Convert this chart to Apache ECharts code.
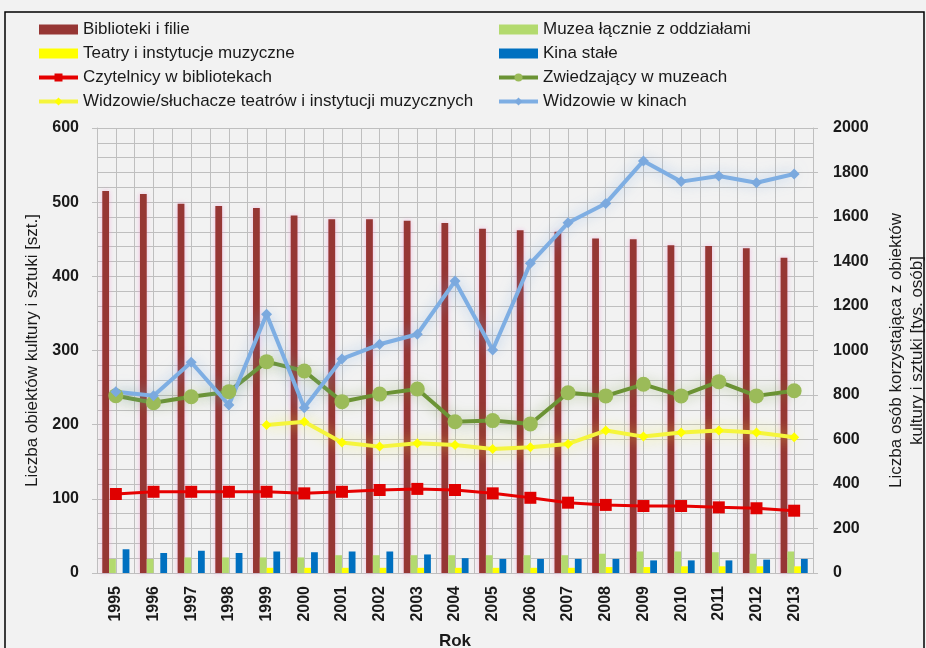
<!DOCTYPE html>
<html>
<head>
<meta charset="utf-8">
<script src="https://cdn.jsdelivr.net/npm/echarts@6/dist/echarts.min.js"></script>
<style>
html, body { margin: 0; padding: 0; background: #f2f2f2; overflow: hidden; }
#main { width: 926px; height: 648px; }
</style>
</head>
<body>
<div id="main"></div>
<script>
var years = ['1995', '1996', '1997', '1998', '1999', '2000', '2001', '2002', '2003', '2004',
    '2005', '2006', '2007', '2008', '2009', '2010', '2011', '2012', '2013'];

// lewa os [szt.]
var biblioteki = [515, 511, 498, 495, 492, 482, 477, 477, 475, 472, 464, 462, 460, 451, 450, 442, 441, 438, 425];
var muzea = [19, 19, 21, 21, 21, 21, 24, 24, 24, 24, 24, 24, 24, 26, 29, 29, 28, 26, 29];
var teatry = [null, null, null, null, 7, 7, 7, 7, 7, 7, 7, 7, 7, 8, 8, 9, 9, 9, 9];
var kina = [32, 27, 30, 27, 29, 28, 29, 29, 25, 20, 19, 19, 19, 19, 17, 17, 17, 18, 19];

// prawa os [tys. osob]
var czytelnicy = [355, 365, 365, 365, 365, 358, 365, 373, 378, 373, 358, 338, 316, 306, 301, 301, 295, 291, 280];
var zwiedzajacy = [797, 765, 792, 815, 950, 908, 770, 804, 827, 680, 685, 670, 810, 796, 848, 796, 860, 796, 819];
var widzowieTeatr = [null, null, null, null, 665, 680, 587, 568, 583, 575, 557, 565, 580, 640, 613, 631, 640, 631, 610];
var widzowieKino = [815, 797, 947, 755, 1163, 743, 962, 1028, 1073, 1312, 1002, 1392, 1574, 1661, 1852, 1759, 1784, 1754, 1793];

var leftTicks = [0, 100, 200, 300, 400, 500, 600];
var rightTicks = [0, 200, 400, 600, 800, 1000, 1200, 1400, 1600, 1800, 2000];

var FONT = '"Liberation Sans", Arial, sans-serif';
var gridColor = '#bfbfbf';
var textColor = '#1a1a1a';

var myChart = echarts.init(document.getElementById('main'), null, {renderer: 'canvas'});

function glowLine(name, data, color, lineColor, symbol, size, width, glow) {
    return {
        name: name,
        type: 'line',
        yAxisIndex: 1,
        data: data,
        symbol: symbol,
        symbolSize: size,
        itemStyle: {color: color},
        lineStyle: {
            color: lineColor,
            width: width,
            shadowColor: glow ? echarts.color.modifyAlpha(lineColor, 0.6) : 'transparent',
            shadowBlur: glow ? 14 : 0
        },
        z: 5
    };
}

var legendBase = {
    orient: 'vertical',
    top: 21,
    padding: 0,
    itemWidth: 39,
    itemHeight: 10,
    itemGap: 7,
    lineStyle: {width: 4},
    textStyle: {fontSize: 17, color: textColor, fontFamily: FONT}
};

option = {
    backgroundColor: '#f2f2f2',
    textStyle: {fontFamily: FONT},
    animation: false,
    graphic: [{
        type: 'rect',
        shape: {x: 5, y: 12, width: 919, height: 700},
        style: {fill: 'none', stroke: '#000', lineWidth: 1.5},
        silent: true
    }],
    legend: [
        Object.assign({}, legendBase, {
            left: 37,
            data: [
                {name: 'Biblioteki i filie', icon: 'rect'},
                {name: 'Teatry i instytucje muzyczne', icon: 'rect'},
                'Czytelnicy w bibliotekach',
                'Widzowie/słuchacze teatrów i instytucji muzycznych'
            ]
        }),
        Object.assign({}, legendBase, {
            left: 497,
            data: [
                {name: 'Muzea łącznie z oddziałami', icon: 'rect'},
                {name: 'Kina stałe', icon: 'rect'},
                'Zwiedzający w muzeach',
                'Widzowie w kinach'
            ]
        })
    ],
    grid: {left: 97, right: 113, top: 128, bottom: 75, containLabel: false, outerBoundsMode: 'none'},
    xAxis: [{
        type: 'category',
        data: years,
        name: 'Rok',
        nameLocation: 'middle',
        nameGap: 60,
        nameTextStyle: {fontSize: 17, fontWeight: 'bold', color: textColor},
        axisLine: {lineStyle: {color: gridColor}},
        axisTick: {show: false},
        axisLabel: {rotate: 90, margin: 13, fontSize: 16, fontWeight: 'bold', color: textColor}
    }, {
        // pionowe linie siatki co pol kategorii
        type: 'value',
        min: 0,
        max: years.length * 2,
        interval: 1,
        position: 'top',
        axisLine: {show: false},
        axisTick: {show: false},
        axisLabel: {show: false},
        splitLine: {show: true, lineStyle: {color: gridColor, width: 1}}
    }],
    yAxis: [{
        type: 'value',
        min: leftTicks[0],
        max: leftTicks[leftTicks.length - 1],
        interval: 100,
        name: 'Liczba obiektów kultury i sztuki [szt.]',
        nameLocation: 'middle',
        nameGap: 56,
        nameTextStyle: {fontSize: 17, color: textColor},
        axisLine: {show: true, lineStyle: {color: gridColor}},
        axisLabel: {margin: 18, fontSize: 16, fontWeight: 'bold', color: textColor},
        splitLine: {lineStyle: {color: gridColor}},
        minorTick: {show: false, splitNumber: 5},
        minorSplitLine: {show: true, lineStyle: {color: gridColor}}
    }, {
        type: 'value',
        min: rightTicks[0],
        max: rightTicks[rightTicks.length - 1],
        interval: 200,
        name: 'Liczba osób korzystająca z obiektów\nkultury i sztuki [tys. osób]',
        nameLocation: 'middle',
        nameGap: 73,
        nameRotate: 90,
        nameTextStyle: {fontSize: 17, color: textColor, lineHeight: 21},
        axisLine: {show: true, lineStyle: {color: gridColor}},
        axisLabel: {
            margin: 20, fontSize: 16, fontWeight: 'bold', color: textColor,
            formatter: function (v) { return String(v); }
        },
        splitLine: {show: false}
    }],
    series: [{
        name: 'Biblioteki i filie',
        type: 'bar',
        data: biblioteki,
        barWidth: '18%',
        barGap: '0%',
        itemStyle: {color: '#963634', shadowColor: 'rgba(240,150,210,0.6)', shadowBlur: 5}
    }, {
        name: 'Muzea łącznie z oddziałami',
        type: 'bar',
        data: muzea,
        barWidth: '18%',
        itemStyle: {color: '#b3da6e'}
    }, {
        name: 'Teatry i instytucje muzyczne',
        type: 'bar',
        data: teatry,
        barWidth: '18%',
        itemStyle: {color: '#ffff00'}
    }, {
        name: 'Kina stałe',
        type: 'bar',
        data: kina,
        barWidth: '18%',
        itemStyle: {color: '#0070c0'}
    },
        glowLine('Czytelnicy w bibliotekach', czytelnicy, '#e00000', '#e60000', 'rect', 12, 3, false),
        glowLine('Zwiedzający w muzeach', zwiedzajacy, '#9bbb59', '#6b9334', 'circle', 15, 4, true),
        glowLine('Widzowie/słuchacze teatrów i instytucji muzycznych', widzowieTeatr, '#ffff00', '#f5f53c', 'diamond', 10, 4, true),
        glowLine('Widzowie w kinach', widzowieKino, '#7ba9de', '#7eaee3', 'diamond', 11, 4, true)
    ]
};

myChart.setOption(option);
</script>
</body>
</html>
